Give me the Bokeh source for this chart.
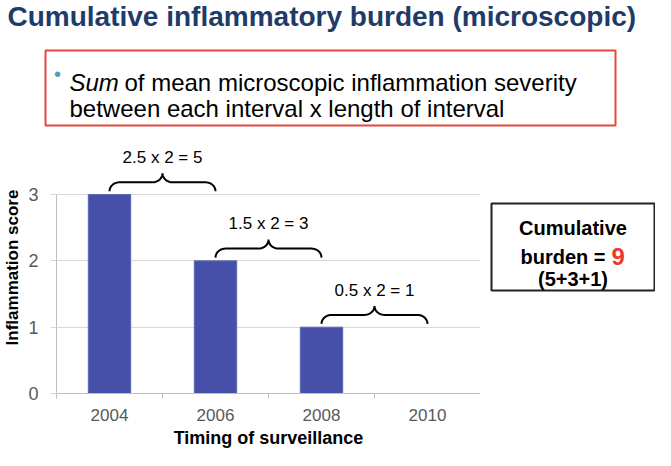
from bokeh.plotting import figure
from bokeh.layouts import column, row
from bokeh.models import Label, BoxAnnotation, Range1d, FixedTicker
from bokeh.core.properties import value
from bokeh.embed import file_html
from bokeh.resources import INLINE
import numpy as np

# ---------------- data ----------------
years = [2004, 2006, 2008, 2010]
scores = [3, 2, 1, 0]
y_ticks = [0, 1, 2, 3]
interval_means = [2.5, 1.5, 0.5]
interval_length = [2, 2, 2]
interval_burden = [5, 3, 1]

title_text = "Cumulative inflammatory burden (microscopic)"
bullet_italic = "Sum"
bullet_line1 = "of mean microscopic inflammation severity"
bullet_line2 = "between each interval x length of interval"
x_label = "Timing of surveillance"
y_label = "Inflammation score"

FONT = "Liberation Sans"

# ---------------- geometry (whole page fits 655 x 450) ----------------
W = 655
H_TOP = 141
H_CHART = 309
W_CHART = 480
W_RIGHT = W - W_CHART
BOTTOM = 57          # x-axis panel of the chart
LEFT = 50            # y-axis panel of the chart


def blank(width, height, bottom=0):
    f = figure(width=width, height=height, x_axis_type=None, y_axis_type=None,
               x_range=Range1d(0, 1), y_range=Range1d(0, 1), title=None,
               output_backend="svg", toolbar_location=None,
               min_border_left=0, min_border_right=0,
               min_border_top=0, min_border_bottom=bottom)
    f.outline_line_color = None
    f.xgrid.visible = False
    f.ygrid.visible = False
    f.background_fill_color = "white"
    f.border_fill_color = "white"
    return f


def lbl(x, y, text, size, style="normal", color="black", align="left",
        baseline="alphabetic"):
    # x, y in screen px relative to the frame's bottom-left corner
    return Label(x=x, y=y, x_units="screen", y_units="screen", text=text,
                 text_font=FONT, text_font_size=size, text_font_style=style,
                 text_color=color, text_align=align, text_baseline=baseline)


def box(l, r, t, b, color):
    return BoxAnnotation(left=l, right=r, top=t, bottom=b,
                         left_units="screen", right_units="screen",
                         top_units="screen", bottom_units="screen",
                         fill_color="white", fill_alpha=0.0,
                         line_color=color, line_alpha=1.0, line_width=2)


# ---------------- top: title + bullet box ----------------
top = blank(W, H_TOP)
top.add_layout(lbl(7, 125.5, title_text, "28px", "bold", "#1F3B6A"))
top.add_layout(box(45, 615, 91, 16, "#E5473C"))
top.add_layout(lbl(57, 68, "\u2022", "20px", color="#4A9CC1",
                   align="center", baseline="middle"))
top.add_layout(lbl(69, 59, bullet_italic, "24px", "italic"))
top.add_layout(lbl(124, 59, bullet_line1, "24px"))
top.add_layout(lbl(69, 33, bullet_line2, "24px"))

# ---------------- chart ----------------
half = (years[1] - years[0]) / 2
p = figure(width=W_CHART, height=H_CHART, title=None,
           x_range=Range1d(years[0] - half, years[-1] + half),
           y_range=Range1d(0, 3.8),
           output_backend="svg", toolbar_location=None,
           min_border_left=LEFT, min_border_right=0,
           min_border_top=0, min_border_bottom=BOTTOM)
p.outline_line_color = None
p.background_fill_color = "white"
p.border_fill_color = "white"

xa = p.xaxis[0]
xa.ticker = FixedTicker(ticks=years,
                        minor_ticks=[y - half for y in years] + [years[-1] + half])
xa.major_tick_out = 0
xa.major_tick_in = 0
xa.minor_tick_out = 5
xa.minor_tick_in = 0
xa.minor_tick_line_color = "#BFBFBF"
xa.axis_line_color = "#BFBFBF"
xa.major_label_text_font = FONT
xa.major_label_text_font_size = "17px"
xa.major_label_text_color = "#595959"
xa.major_label_text_line_height = 1.0
xa.major_label_standoff = 10
xa.axis_label = x_label
xa.axis_label_text_font = FONT
xa.axis_label_text_font_size = "18px"
xa.axis_label_text_font_style = "bold"
xa.axis_label_text_color = "black"
xa.axis_label_text_line_height = 1.0
xa.axis_label_standoff = 4

ya = p.yaxis[0]
ya.ticker = FixedTicker(ticks=y_ticks)
ya.bounds = (y_ticks[0], y_ticks[-1])
ya.major_tick_out = 6
ya.major_tick_in = 0
ya.minor_tick_out = 0
ya.minor_tick_in = 0
ya.major_tick_line_color = "#D9D9D9"
ya.axis_line_color = "#BFBFBF"
ya.major_label_text_font = FONT
ya.major_label_text_font_size = "18px"
ya.major_label_text_color = "#595959"
ya.major_label_standoff = 12
ya.axis_label = y_label
ya.axis_label_text_font = FONT
ya.axis_label_text_font_size = "17px"
ya.axis_label_text_font_style = "bold"
ya.axis_label_text_color = "black"
ya.axis_label_standoff = 3

p.xgrid.grid_line_color = None
p.ygrid.grid_line_color = "#D9D9D9"

p.vbar(x=years, top=scores, width=0.8, fill_color="#4650A8", line_color="#5C66B6")


def brace(x0, x1, y0, h, r):
    xm = (x0 + x1) / 2
    t = np.linspace(0, np.pi / 2, 12)
    xs, ys = [], []
    xs += list(x0 + r - r * np.cos(t)); ys += list(y0 + h / 2 * np.sin(t))
    xs += list(xm - r + r * np.sin(t)); ys += list(y0 + h - h / 2 * np.cos(t))
    xs += list(xm + r - r * np.cos(t)); ys += list(y0 + h - h / 2 * np.sin(t))
    xs += list(x1 - r + r * np.sin(t)); ys += list(y0 + h / 2 * np.cos(t))
    return xs, ys


bxs, bys, mids, label_ys, labels = [], [], [], [], []
for i in range(len(interval_means)):
    x0, x1 = years[i], years[i + 1]
    bx, by = brace(x0, x1, scores[i] + 0.05, 0.27, 0.19)
    bxs.append(bx); bys.append(by)
    mids.append((x0 + x1) / 2)
    label_ys.append(scores[i] + 0.56)
    labels.append(f"{interval_means[i]} x {interval_length[i]} = {interval_burden[i]}")

p.multi_line(xs=bxs, ys=bys, line_color="black", line_width=2)
p.text(x=mids, y=label_ys, text=labels, text_font=value(FONT),
       text_font_size="17px", text_align="center", text_baseline="middle",
       text_color="black")

# ---------------- right: cumulative burden box ----------------
right = blank(W_RIGHT, H_CHART, bottom=BOTTOM)
total = sum(interval_burden)
right.add_layout(box(11, 174, 190, 103, "#222222"))
right.add_layout(lbl(92.5, 166, "Cumulative", "20px", "bold", align="center"))
right.add_layout(lbl(125, 137, "burden =", "20px", "bold", align="right"))
right.add_layout(lbl(131, 137, str(total), "24px", "bold", "#F0382B"))
right.add_layout(lbl(92.5, 115,
                     "(" + "+".join(str(b) for b in interval_burden) + ")",
                     "20px", "bold", align="center"))

layout = column(top, row(p, right))
open("out.html", "w").write(file_html(layout, INLINE))
